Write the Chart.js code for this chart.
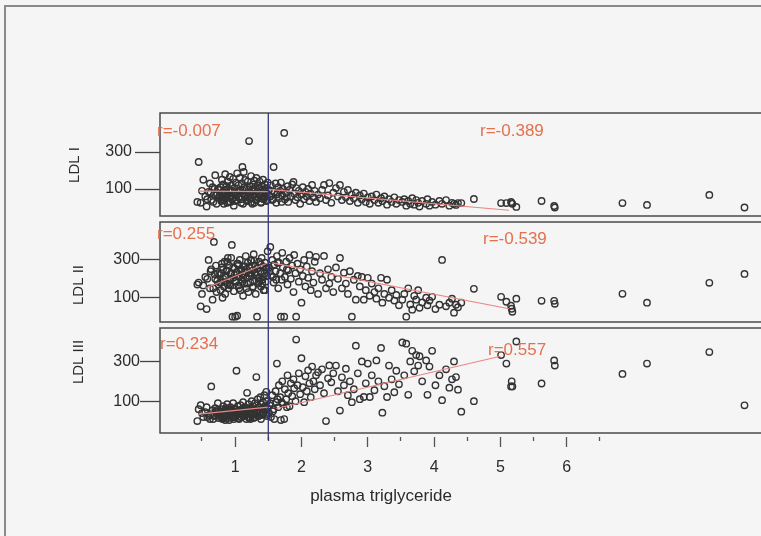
<!DOCTYPE html>
<html>
<head>
<meta charset="utf-8">
<title>LDL subclasses vs plasma triglyceride</title>
<script src="https://cdn.jsdelivr.net/npm/chart.js@4.4.1/dist/chart.umd.min.js"></script>
<style>
    html, body { margin: 0; padding: 0; overflow: hidden; }
    body {
        width: 761px;
        height: 536px;
        position: relative;
        background: #f5f5f5;
        font-family: 'Liberation Sans', Arial, sans-serif;
    }
    .frame {
        position: absolute;
        left: 4px;
        top: 5px;
        width: 900px;
        height: 700px;
        border-left: 2px solid #8a8a8a;
        border-top: 2px solid #8a8a8a;
    }
    canvas { position: absolute; left: 0; }
</style>
</head>
<body>
<div class="frame"></div>
<canvas id="panel1" width="800" height="219" style="top:0px"></canvas>
<canvas id="panel2" width="800" height="106" style="top:219px"></canvas>
<canvas id="panel3" width="800" height="211" style="top:325px"></canvas>

<script>
// Plasma triglyceride (x) shared by all three panels, one entry per subject
const tg = [
    0.43, 0.45, 0.48, 0.50, 0.52, 0.55, 0.57, 0.60, 0.62, 0.64, 0.66, 0.68, 0.70, 0.72, 0.74, 0.75,
    0.77, 0.78, 0.79, 0.80, 0.81, 0.82, 0.83, 0.84, 0.85, 0.86, 0.87, 0.88, 0.89, 0.90, 0.91, 0.92,
    0.93, 0.94, 0.95, 0.96, 0.97, 0.98, 0.99, 1.00, 1.01, 1.02, 1.03, 1.04, 1.05, 1.06, 1.07, 1.08,
    1.09, 1.10, 1.11, 1.12, 1.13, 1.14, 1.15, 1.16, 1.17, 1.18, 1.19, 1.20, 1.21, 1.22, 1.23, 1.24,
    1.25, 1.26, 1.27, 1.28, 1.29, 1.30, 1.31, 1.32, 1.33, 1.34, 1.35, 1.36, 1.37, 1.38, 1.39, 1.40,
    1.41, 1.42, 1.43, 1.44, 1.45, 1.46, 1.47, 1.48, 1.49,
    1.51, 1.53, 1.54, 1.56, 1.58, 1.59, 1.61, 1.62, 1.63, 1.65, 1.66, 1.68, 1.69, 1.71, 1.72, 1.74,
    1.75, 1.77, 1.79, 1.80, 1.82, 1.84, 1.86, 1.88, 1.89, 1.91, 1.92, 1.94, 1.96, 1.98, 2.00, 2.02,
    2.04, 2.06, 2.08, 2.10, 2.12, 2.14, 2.16, 2.18, 2.20, 2.22, 2.25, 2.28, 2.31, 2.34, 2.37, 2.40,
    2.42, 2.45, 2.48,
    2.52, 2.55, 2.58, 2.61, 2.64, 2.67, 2.70, 2.73, 2.76, 2.79, 2.82, 2.85, 2.88, 2.91, 2.94, 2.97,
    3.00, 3.03, 3.06, 3.10, 3.13, 3.16, 3.20, 3.22, 3.25, 3.29, 3.32, 3.36, 3.40, 3.43, 3.47,
    3.52, 3.55, 3.58, 3.61, 3.64, 3.67, 3.70, 3.73, 3.76, 3.78, 3.82, 3.88, 3.90, 3.93, 3.97, 4.02,
    4.08, 4.12, 4.18, 4.23, 4.27,
    4.30, 4.33, 4.36, 4.41, 4.60, 5.01, 5.09, 5.16, 5.17, 5.18, 5.24, 5.62, 5.81, 5.82, 6.84, 7.21,
    8.15, 8.68,
    // second pass through the dense low-TG cluster
    0.58, 0.63, 0.67, 0.71, 0.76, 0.79, 0.82, 0.85, 0.88, 0.91, 0.94, 0.97, 1.00, 1.03, 1.06, 1.09,
    1.12, 1.15, 1.18, 1.21, 1.24, 1.27, 1.30, 1.33, 1.36, 1.39, 1.42, 1.45, 1.48, 0.69, 0.73, 0.80,
    0.87, 0.93, 0.99, 1.05, 1.11, 1.17, 1.23, 1.29, 1.35, 1.41, 1.47, 1.52, 1.57, 1.64, 1.70, 1.78
];

const ldl1 = [
    30, 246, 25, 90, 150, 60, 5, 85, 130, 40, 110, 70, 175, 20, 100, 55,
    60, 110, 35, 150, 80, 125, 20, 95, 180, 50, 115, 75, 140, 30, 100, 165,
    65, 120, 45, 90, 155, 10, 105, 70, 135, 40, 185, 85, 120, 55, 160, 95,
    25, 130, 219, 75, 192, 110, 149, 60, 100, 35, 140, 80, 359, 115, 50, 170,
    90, 20, 125, 70, 145, 105, 40, 160, 85, 120, 55, 100, 140, 65, 30, 115,
    80, 150, 45, 95, 125, 60, 105, 75, 135,
    95, 60, 120, 40, 219, 85, 130, 25, 70, 110, 50, 90, 135, 65, 100, 403,
    45, 80, 115, 30, 95, 60, 125, 138, 75, 40, 105, 55, 90, 20, 70, 110,
    45, 85, 60, 100, 35, 75, 122, 55, 90, 30, 70, 50, 95, 122, 40, 65,
    132, 25, 80,
    105, 60, 122, 40, 85, 55, 95, 35, 70, 50, 80, 25, 65, 45, 75, 30,
    55, 20, 60, 40, 70, 25, 50, 35, 60, 15, 45, 30, 55, 20, 40,
    30, 45, 10, 35, 20, 50, 15, 40, 25, 5, 35, 20, 45, 10, 30, 15,
    35, 20, 40, 10, 25,
    20, 14, 24, 24, 46, 24, 24, 30, 24, 20, 3, 35, 8, 0, 24, 14,
    68, 0,
    45, 80, 30, 65, 95, 55, 40, 75, 25, 60, 85, 50, 35, 70, 90, 45,
    20, 65, 55, 80, 30, 100, 60, 45, 75, 25, 50, 85, 40, 100, 70, 45,
    60, 30, 80, 55, 95, 40, 65, 25, 70, 50, 35, 60, 45, 80, 30, 55
];

const ldl2 = [
    170, 180, 55, 120, 165, 210, 40, 300, 150, 250, 90, 395, 200, 130, 230, 170,
    180, 140, 230, 260, 100, 200, 160, 290, 120, 215, 245, 175, 310, 150, 270, 190,
    225, 311, 379, 0, 205, 135, 255, 0, 185, 235, 5, 280, 165, 210, 300, 140,
    250, 195, 225, 110, 265, 175, 240, 320, 150, 205, 285, 130, 230, 260, 180, 295,
    215, 155, 245, 330, 190, 270, 120, 220, 0, 255, 175, 290, 205, 240, 160, 310,
    195, 265, 140, 230, 285, 185, 250, 215, 345,
    260, 368, 220, 300, 180, 275, 240, 195, 320, 150, 285, 230, 0, 337, 260, 0,
    210, 290, 170, 245, 310, 200, 270, 130, 326, 230, 0, 280, 185, 250, 74, 215,
    300, 160, 265, 205, 326, 140, 240, 180, 290, 316, 120, 230, 195, 321, 150, 250,
    175, 210, 130,
    260, 200, 310, 150, 232, 175, 120, 240, 0, 195, 90, 215, 160, 210, 90, 140,
    205, 110, 175, 130, 95, 150, 205, 74, 120, 195, 100, 140, 85, 115, 60,
    90, 120, 0, 150, 65, 37, 110, 90, 140, 47, 75, 100, 60, 85, 105, 40,
    63, 300, 55, 74, 95,
    21, 63, 50, 74, 147, 105, 79, 58, 42, 26, 95, 84, 84, 68, 121, 74,
    179, 226,
    200, 240, 150, 270, 220, 180, 250, 210, 290, 170, 230, 260, 190, 280, 150, 245,
    205, 265, 175, 215, 300, 160, 235, 255, 185, 275, 210, 140, 260, 225, 190, 280,
    240, 165, 220, 270, 185, 250, 230, 295, 200, 175, 260, 240, 210, 285, 195, 250
];

const ldl3 = [
    0, 60, 80, 40, 20, 45, 70, 30, 10, 174, 55, 25, 65, 40, 90, 15,
    35, 50, 20, 60, 10, 75, 30, 45, 5, 65, 25, 85, 40, 15, 55, 30,
    70, 20, 50, 35, 90, 10, 60, 25, 45, 253, 30, 75, 15, 55, 35, 80,
    20, 60, 40, 95, 25, 50, 70, 30, 10, 142, 55, 85, 40, 20, 65, 45,
    100, 30, 75, 15, 60, 90, 35, 221, 50, 110, 25, 70, 45, 120, 85, 30,
    60, 95, 40, 130, 75, 55, 147, 100, 65,
    40, 90, 20, 130, 60, 10, 150, 95, 289, 70, 180, 120, 5, 200, 85, 10,
    160, 110, 230, 140, 75, 190, 125, 210, 165, 100, 410, 180, 240, 135, 316, 170,
    95, 225, 150, 255, 190, 120, 274, 200, 160, 230, 245, 180, 260, 140, 0, 215,
    280, 195, 240,
    279, 150, 53, 220, 180, 263, 130, 200, 95, 160, 379, 240, 110, 300, 121, 190,
    289, 121, 230, 155, 305, 200, 368, 42, 175, 121, 279, 210, 145, 253, 185,
    395, 230, 389, 132, 300, 353, 250, 332, 279, 326, 200, 305, 132, 274, 353, 180,
    230, 105, 260, 168, 210,
    300, 221, 158, 47, 100, 332, 289, 174, 200, 174, 400, 189, 305, 279, 237, 289,
    347, 79,
    20, 35, 10, 50, 25, 40, 15, 55, 30, 5, 45, 20, 60, 35, 10, 50,
    25, 40, 65, 15, 30, 55, 20, 45, 70, 10, 35, 60, 25, 30, 50, 15,
    40, 60, 20, 45, 30, 55, 10, 40, 25, 65, 35, 80, 50, 110, 95, 70
];

// Regression segments below / above the 1.5 cut-off, [tg, ldl] end points
const ldl1Fits = [[[0.45, 88], [1.5, 86]], [[1.5, 98], [5.13, -15]]];
const ldl2Fits = [[[0.55, 150], [1.5, 285]], [[1.56, 284], [5.13, 42]]];
const ldl3Fits = [[[0.45, 35], [1.5, 70]], [[1.62, 63], [5.0, 326]]];

const ldl1R = ['r=-0.007', 'r=-0.389'];
const ldl2R = ['r=0.255', 'r=-0.539'];
const ldl3R = ['r=0.234', 'r=0.557'];

const tgTicks = [0.5, 1, 1.5, 2, 2.5, 3, 3.5, 4, 4.5, 5, 5.5, 6, 6.5];
const ldlTicks = [100, 300];
const tgCutoff = 1.5;
const tgRange = [-0.133, 9.517];

const FONT = "'Liberation Sans', Arial, sans-serif";
Chart.defaults.font.family = FONT;

const panels = [
    {
        id: 'panel1', name: 'LDL I', values: ldl1, range: [-46, 511], fits: ldl1Fits, r: ldl1R,
        padding: { top: 113, bottom: 3, left: 0, right: 0 },
        rPos: [[157, 131], [480, 131]], namePos: [75, 165],
        cutFrom: 113, cutTo: 219, tickLen: 25, tickPad: 3, showX: false
    },
    {
        id: 'panel2', name: 'LDL II', values: ldl2, range: [-28, 500], fits: ldl2Fits, r: ldl2R,
        padding: { top: 3, bottom: 3, left: 0, right: 0 },
        rPos: [[157, 15], [483, 20]], namePos: [79, 66],
        cutFrom: 0, cutTo: 106, tickLen: 20, tickPad: 0, showX: false
    },
    {
        id: 'panel3', name: 'LDL III', values: ldl3, range: [-60, 468], fits: ldl3Fits, r: ldl3R,
        padding: { top: 3, bottom: 0, left: 0, right: 0 },
        rPos: [[160, 19], [488, 25]], namePos: [79, 37],
        cutFrom: 0, cutTo: 115, tickLen: 20, tickPad: 0, showX: true
    }
];

function makeDecor(panel) {
    return {
        id: 'panelDecor',
        beforeDatasetsDraw(chart) {
            const { ctx, chartArea: a } = chart;
            ctx.save();
            ctx.strokeStyle = '#4a4a4a';
            ctx.lineWidth = 1.5;
            ctx.beginPath();
            ctx.moveTo(a.right + 10, a.top);
            ctx.lineTo(a.left, a.top);
            ctx.lineTo(a.left, a.bottom);
            ctx.lineTo(a.right + 10, a.bottom);
            ctx.stroke();
            ctx.restore();
        },
        afterDatasetsDraw(chart) {
            const { ctx } = chart;
            const cx = chart.scales.x.getPixelForValue(tgCutoff);
            ctx.save();

            // cut-off at 1.5
            ctx.strokeStyle = '#36367c';
            ctx.lineWidth = 1.3;
            ctx.beginPath();
            ctx.moveTo(cx, panel.cutFrom);
            ctx.lineTo(cx, panel.cutTo);
            ctx.stroke();

            // correlation labels
            ctx.font = `17px ${FONT}`;
            ctx.fillStyle = '#e4704e';
            ctx.textBaseline = 'middle';
            ctx.textAlign = 'left';
            panel.r.forEach((text, i) => {
                ctx.fillText(text, panel.rPos[i][0], panel.rPos[i][1]);
            });

            ctx.fillStyle = '#2b2b2b';
            if (panel.showX) {
                ctx.textAlign = 'center';
                ctx.fillText('plasma triglyceride', 381, 171);
            }

            // panel name, rotated
            ctx.font = `15px ${FONT}`;
            ctx.translate(panel.namePos[0], panel.namePos[1]);
            ctx.rotate(-Math.PI / 2);
            ctx.textAlign = 'center';
            ctx.fillText(panel.name, 0, 0);
            ctx.restore();
        }
    };
}

function buildPanel(panel) {
    const fitSets = panel.fits.map(seg => ({
        data: seg.map(([x, y]) => ({ x, y })),
        showLine: true,
        borderColor: '#ea8784',
        borderWidth: 1.2,
        pointRadius: 0,
        order: 0
    }));

    return new Chart(document.getElementById(panel.id), {
        type: 'scatter',
        data: {
            datasets: [
                ...fitSets,
                {
                    data: tg.map((x, i) => ({ x, y: panel.values[i] })),
                    pointRadius: 3.2,
                    pointBorderWidth: 1.4,
                    pointBorderColor: '#333333',
                    pointBackgroundColor: 'rgba(0,0,0,0)',
                    order: 1
                }
            ]
        },
        options: {
            responsive: false,
            animation: false,
            layout: { padding: panel.padding, autoPadding: false },
            plugins: {
                legend: { display: false },
                tooltip: { enabled: false }
            },
            scales: {
                x: {
                    type: 'linear',
                    min: tgRange[0],
                    max: tgRange[1],
                    display: panel.showX,
                    afterBuildTicks: s => { s.ticks = tgTicks.map(v => ({ value: v })); },
                    afterFit: s => {
                        s.height = panel.showX ? 103 : 0;
                        s.paddingLeft = 0;
                        s.paddingRight = 0;
                    },
                    border: { display: false },
                    grid: {
                        drawOnChartArea: false,
                        tickLength: 14,
                        tickWidth: 1.3,
                        tickColor: '#555555',
                        tickBorderDash: ctx => (ctx.tick && Number.isInteger(ctx.tick.value)) ? [0, 4, 10, 30] : [0, 4, 4, 30]
                    },
                    ticks: {
                        autoSkip: false,
                        maxRotation: 0,
                        padding: 11,
                        color: '#2b2b2b',
                        font: { size: 16 },
                        callback: v => Number.isInteger(v) ? String(v) : ''
                    }
                },
                y: {
                    min: panel.range[0],
                    max: panel.range[1],
                    afterBuildTicks: s => { s.ticks = ldlTicks.map(v => ({ value: v })); },
                    afterFit: s => {
                        s.width = 160;
                        s.paddingTop = 0;
                        s.paddingBottom = 0;
                    },
                    border: { display: false },
                    grid: {
                        drawOnChartArea: false,
                        tickLength: panel.tickLen,
                        tickWidth: 1.3,
                        tickColor: '#444444'
                    },
                    ticks: {
                        padding: panel.tickPad,
                        color: '#2b2b2b',
                        font: { size: 16 }
                    }
                }
            }
        },
        plugins: [makeDecor(panel)]
    });
}

panels.forEach(buildPanel);
</script>
</body>
</html>
